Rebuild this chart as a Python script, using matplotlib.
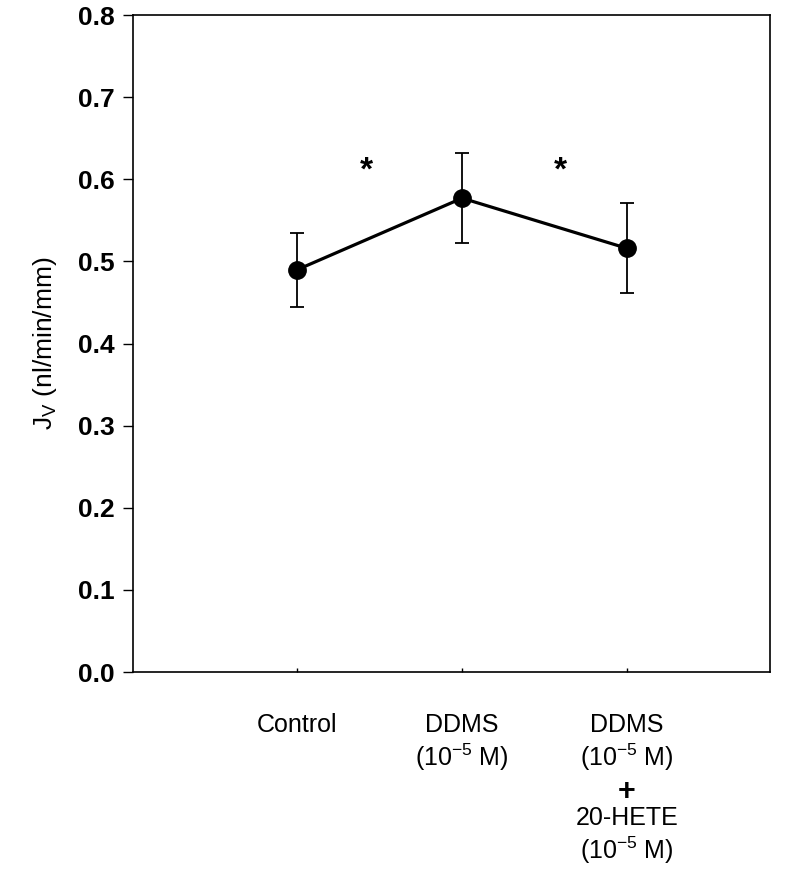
import matplotlib
matplotlib.use("Agg")
import matplotlib.pyplot as plt

plt.rcParams['font.family'] = ['Liberation Sans', 'DejaVu Sans']
plt.rcParams['mathtext.fontset'] = 'custom'
plt.rcParams['mathtext.rm'] = 'Liberation Sans'
plt.rcParams['mathtext.it'] = 'Liberation Sans'
plt.rcParams['mathtext.bf'] = 'Liberation Sans:bold'

# data
groups = ["Control",
          "DDMS\n(10$^{-5}$ M)",
          "DDMS\n(10$^{-5}$ M)"]
extra_label = "20-HETE\n(10$^{-5}$ M)"
jv_mean = [0.490, 0.577, 0.516]
jv_err = [0.045, 0.055, 0.055]
star_pos = [1.42, 2.60]
star_y = 0.61

x = [1, 2, 3]

fig = plt.figure(figsize=(8, 8.73), dpi=100)
ax = fig.add_axes([0.166, 0.2302, 0.7965, 0.7526])

ax.errorbar(x, jv_mean, yerr=jv_err, fmt='o-', color='black', ms=12.5,
            lw=2.3, elinewidth=1.3, capsize=5, capthick=1.3)

for xs in star_pos:
    ax.text(xs, star_y, "*", ha='center', va='center', fontsize=24, fontweight='bold')

ax.set_xlim(0.0, 3.87)
ax.set_ylim(0, 0.8)
ax.set_yticks([0.0, 0.1, 0.2, 0.3, 0.4, 0.5, 0.6, 0.7, 0.8])
ax.set_yticklabels(["%.1f" % v for v in ax.get_yticks()], fontsize=19, fontweight='bold')
ax.tick_params(axis='y', direction='out', length=7, width=1, pad=6)

ax.set_xticks(x)
ax.set_xticklabels([])
ax.tick_params(axis='x', direction='in', length=3, width=1)
for xi, lab in zip(x, groups):
    ax.text(xi, -0.05, lab, ha='center', va='top', fontsize=18,
            linespacing=1.2, clip_on=False)
# the bold "+" and the second treatment under the third group
ax.text(3, -0.146, "+", ha='center', va='center', fontsize=22, fontweight='bold',
        clip_on=False)
ax.text(3, -0.163, extra_label, ha='center', va='top', fontsize=18,
        linespacing=1.2, clip_on=False)

ax.set_ylabel("J$_{\\rm V}$ (nl/min/mm)", fontsize=19, labelpad=14)

for s in ax.spines.values():
    s.set_linewidth(1.2)

fig.savefig("out.png", dpi=100)
